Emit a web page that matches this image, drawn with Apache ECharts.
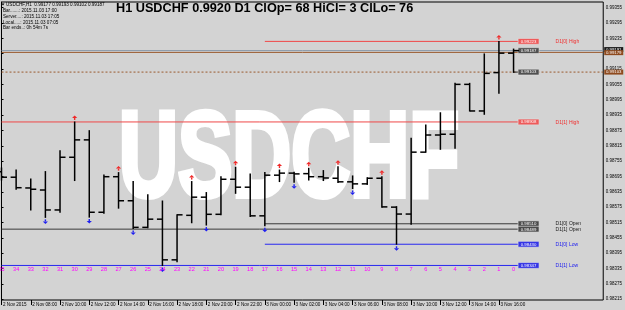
<!DOCTYPE html>
<html><head><meta charset="utf-8">
<script src="https://cdn.jsdelivr.net/npm/echarts@6/dist/echarts.min.js"></script>
<style>html,body{margin:0;padding:0;background:#D3D3D3;}#c{width:625px;height:310px;}</style>
</head><body><div id="c"></div>
<script>
// ---------- data ----------
const barNumbers = [35,34,33,32,31,30,29,28,27,26,25,24,23,22,21,20,19,18,17,16,15,14,13,12,11,10,9,8,7,6,5,4,3,2,1,0];
const opens  = [0.98713,0.98692,0.98650,0.98642,0.98564,0.98770,0.98838,0.98555,0.98694,0.98600,0.98496,0.98528,0.98369,0.98543,0.98614,0.98547,0.98684,0.98653,0.98541,0.98700,0.98708,0.98706,0.98694,0.98688,0.98674,0.98666,0.98688,0.98575,0.98548,0.98790,0.98857,0.98860,0.99055,0.98951,0.99101,0.99177];
const highs  = [0.98728,0.98720,0.98685,0.98714,0.98795,0.98908,0.98874,0.98701,0.98710,0.98675,0.98623,0.98599,0.98545,0.98675,0.98632,0.98694,0.98731,0.98705,0.98710,0.98720,0.98711,0.98727,0.98718,0.98733,0.98697,0.98690,0.98694,0.98577,0.98844,0.98896,0.98944,0.99059,0.99059,0.99174,0.99223,0.99193];
const lows   = [0.98681,0.98645,0.98564,0.98535,0.98555,0.98679,0.98536,0.98551,0.98571,0.98492,0.98494,0.98347,0.98362,0.98514,0.98505,0.98545,0.98629,0.98538,0.98502,0.98675,0.98672,0.98681,0.98679,0.98671,0.98648,0.98664,0.98575,0.98430,0.98508,0.98790,0.98801,0.98805,0.98951,0.98938,0.99020,0.99102];
const closes = [0.98692,0.98651,0.98645,0.98564,0.98770,0.98838,0.98555,0.98694,0.98600,0.98496,0.98528,0.98369,0.98545,0.98614,0.98547,0.98684,0.98653,0.98541,0.98700,0.98708,0.98705,0.98694,0.98689,0.98674,0.98666,0.98688,0.98576,0.98548,0.98790,0.98857,0.98860,0.99055,0.98951,0.99098,0.99177,0.99187];
const upFractalBars   = [30,27,22,19,16,14,12,9,1];
const downFractalBars = [32,29,26,24,21,17,15,11,8];
const timeLabelBars = [35,33,31,29,27,25,23,21,19,17,15,13,11,9,7,5,3,1];
const timeLabels = ['2 Nov 2015','2 Nov 08:00','2 Nov 10:00','2 Nov 12:00','2 Nov 14:00','2 Nov 16:00','2 Nov 18:00','2 Nov 20:00','2 Nov 22:00','3 Nov 00:00','3 Nov 02:00','3 Nov 04:00','3 Nov 06:00','3 Nov 08:00','3 Nov 10:00','3 Nov 12:00','3 Nov 14:00','3 Nov 16:00'];
const priceTicks = [0.98215,0.98275,0.98335,0.98395,0.98455,0.98515,0.98575,0.98635,0.98695,0.98755,0.98815,0.98875,0.98935,0.98995,0.99055,0.99115,0.99175,0.99235,0.99295,0.99355];
const levelNames     = ['D1[0] High','D1[1] High','D1[0] Open','D1[1] Open','D1[0] Low','D1[1] Low','',''];
const levelKinds     = ['high','high','open','open','low','low','bar','bar'];
const levelValues    = [0.99223,0.98908,0.98510,0.98489,0.98430,0.98347,0.99187,0.99103];
const levelStartBars = [17,35,17,35,17,35,0,0];
const priceLineValues = [0.99187,0.99180,0.99103];
const priceLineKinds  = ['bid','brown','brownDot'];
const axisBoxValues = [0.99191,0.99179,0.99103];
const axisBoxKinds  = ['bid','brown','brown'];
const titleText = 'H1 USDCHF 0.9920 D1 ClOp= 68 HiCl= 3 ClLo= 76';
const watermark = 'USDCHF';
const infoLines = ['USDCHF,H1  0.99177 0.99193 0.99102 0.99187','Bar.......: 2015.11.03 17:00','Server....: 2015.11.03 17:05','Local.....: 2015.11.03 07:05','Bar ends..: 0h 54m 7s'];

// ---------- styles ----------
const FONT = '"Liberation Sans", Arial, sans-serif';
const levelStyle = {
  high: {line:'#F04848', box:'#EE5A5A', text:'#F03030'},
  open: {line:'#3A3A3A', box:'#4A4A4A', text:'#202020'},
  low:  {line:'#2828F0', box:'#3434E6', text:'#2020F0'},
  bar:  {line:'#202020', box:'#505050', text:'#202020'}
};
const priceLineStyle = {
  bid: {stroke:'#8898A8', lineWidth:1},
  brown: {stroke:'#9A5A2E', lineWidth:1},
  brownDot: {stroke:'#9A5A2E', lineWidth:1, lineDash:[2,2]}
};
const axisBoxStyle = {bid:'#1A1A1A', brown:'#8E4A1E'};

// ---------- derived ----------
const N = barNumbers.length;
const idxOf = b => (N - 1) - b;
const ohlcData = barNumbers.map((b, i) => [idxOf(b), opens[i], highs[i], lows[i], closes[i]]);
const fractalData = upFractalBars.map(b => [idxOf(b), highs[barNumbers.indexOf(b)], 1])
  .concat(downFractalBars.map(b => [idxOf(b), lows[barNumbers.indexOf(b)], -1]));
const numberData = barNumbers.map(b => [idxOf(b), b]);
const levelData = levelValues.map((v, i) => [idxOf(levelStartBars[i]), v, i]);
const priceLineData = priceLineValues.map((v, i) => [0, v, i]);
const axisBoxData = axisBoxValues.map((v, i) => [0, v, i]);
const xTickVals = timeLabelBars.map(idxOf);

const chart = echarts.init(document.getElementById('c'));

function renderBar(params, api) {
  const x = api.value(0);
  const o = api.coord([x, api.value(1)]);
  const h = api.coord([x, api.value(2)]);
  const l = api.coord([x, api.value(3)]);
  const c = api.coord([x, api.value(4)]);
  const w = 5.5;
  const st = {stroke:'#000', lineWidth:1.5};
  return {type:'group', children:[
    {type:'line', shape:{x1:h[0], y1:h[1]-0.5, x2:l[0], y2:l[1]+0.5}, style:st},
    {type:'line', shape:{x1:o[0]-w, y1:o[1], x2:o[0], y2:o[1]}, style:st},
    {type:'line', shape:{x1:c[0], y1:c[1], x2:c[0]+w, y2:c[1]}, style:st}
  ]};
}
function renderFractal(params, api) {
  const p = api.coord([api.value(0), api.value(1)]);
  const d = api.value(2);
  const col = d > 0 ? '#F02828' : '#2020F0';
  const s = -d;
  const tip = p[1] + s * 6.5, base = p[1] + s * 4, stemEnd = p[1] + s * 2;
  return {type:'group', children:[
    {type:'polygon', shape:{points:[[p[0], tip],[p[0]-2.6, base],[p[0]+2.6, base]]}, style:{fill:col}},
    {type:'line', shape:{x1:p[0], y1:base, x2:p[0], y2:stemEnd}, style:{stroke:col, lineWidth:1.4}}
  ]};
}
function renderNumber(params, api) {
  const p = api.coord([api.value(0), 0.99]);
  const cs = params.coordSys;
  return {type:'text', x:p[0], y:cs.y + cs.height - 30.3,
    style:{text:String(api.value(1)), fill:'#FF00FF', font:'5.6px ' + FONT, align:'center', verticalAlign:'middle'}};
}
function renderLevel(params, api) {
  const i = api.value(2);
  const v = api.value(1);
  const st = levelStyle[levelKinds[i]];
  const p0 = api.coord([api.value(0), v]);
  const p1 = api.coord([N - 1, v]);
  const bx = p1[0] + 4.5;
  const ch = [
    {type:'line', shape:{x1:p0[0], y1:p0[1], x2:bx, y2:p1[1]}, style:{stroke:st.line, lineWidth:1}},
    {type:'rect', shape:{x:bx, y:p1[1]-2.9, width:21, height:5.8}, style:{fill:st.box, stroke:'#E0E0E0', lineWidth:0.6}},
    {type:'text', x:bx+10.5, y:p1[1]+0.2, style:{text:v.toFixed(5), fill:'#fff', font:'4.3px ' + FONT, align:'center', verticalAlign:'middle'}}
  ];
  if (levelNames[i]) ch.push({type:'text', x:p1[0]+42, y:p1[1]+0.3,
    style:{text:levelNames[i], fill:st.text, font:'5px ' + FONT, align:'left', verticalAlign:'middle'}});
  return {type:'group', children:ch};
}
function renderPriceLine(params, api) {
  const i = api.value(2);
  const cs = params.coordSys;
  const p = api.coord([0, api.value(1)]);
  return {type:'line', shape:{x1:cs.x, y1:p[1], x2:cs.x+cs.width, y2:p[1]}, style:priceLineStyle[priceLineKinds[i]]};
}
function renderAxisBox(params, api) {
  const i = api.value(2);
  const v = api.value(1);
  const cs = params.coordSys;
  const p = api.coord([0, v]);
  const x0 = cs.x + cs.width + 1;
  return {type:'group', children:[
    {type:'rect', shape:{x:x0, y:p[1]-2.5, width:19, height:5}, style:{fill:axisBoxStyle[axisBoxKinds[i]]}},
    {type:'text', x:x0+9.5, y:p[1]+0.2, style:{text:v.toFixed(5), fill:'#fff', font:'4.3px ' + FONT, align:'center', verticalAlign:'middle'}}
  ]};
}

const infoGraphics = infoLines.map((t, i) => ({
  type:'text', left: i === 0 ? 6 : 3, top: 2.4 + i * 5.8, z: 10,
  style:{text:t, fill:'#000', font:'4.6px ' + FONT}
}));

chart.setOption({
  backgroundColor:'#D3D3D3',
  animation:false,
  grid:{left:1.2, right:20, top:2, bottom:10, show:true, borderColor:'#000', borderWidth:1, backgroundColor:'transparent'},
  xAxis:{type:'value', min:0, max:41.13, splitLine:{show:false},
    axisLine:{show:false},
    axisTick:{show:true, customValues:xTickVals, length:5, lineStyle:{color:'#000', width:1}},
    axisLabel:{show:true, customValues:xTickVals, align:'left', margin:2.5, padding:[0,0,0,1.5], fontSize:4.6, fontFamily:'Liberation Sans', color:'#000',
      formatter: v => timeLabels[xTickVals.indexOf(Math.round(v))] || ''}},
  yAxis:{type:'value', position:'right', min:0.98212, max:0.99377, scale:true, splitLine:{show:false},
    axisLine:{show:true, lineStyle:{color:'#000'}},
    axisTick:{show:true, customValues:priceTicks, length:2, lineStyle:{color:'#000'}},
    axisLabel:{show:true, customValues:priceTicks, margin:2.5, fontSize:4.5, fontFamily:'Liberation Sans', color:'#000',
      formatter: v => v.toFixed(5)}},
  graphic:[
    {type:'text', x:289, y:162.5, scaleX:0.68, z:0, silent:true,
      style:{text:watermark, fill:'#FFFFFF', stroke:'#FFFFFF', lineWidth:6, fontSize:120, fontWeight:'bold', fontFamily:'Liberation Sans',
        align:'center', verticalAlign:'middle'}},
    {type:'text', left:116, top:1.5, z:10,
      style:{text:titleText, fill:'#000', fontSize:12.7, fontWeight:'bold', fontFamily:'Liberation Sans'}},
    {type:'polygon', z:10, shape:{points:[[1.5,3.5],[4.5,3.5],[3,5.5]]}, style:{fill:'#000'}}
  ].concat(infoGraphics),
  series:[
    {type:'custom', name:'priceLines', renderItem:renderPriceLine, data:priceLineData, z:1, clip:false},
    {type:'custom', name:'levels', renderItem:renderLevel, data:levelData, z:2, clip:false},
    {type:'custom', name:'bars', renderItem:renderBar, data:ohlcData, z:3, encode:{x:0, y:[1,2,3,4]}},
    {type:'custom', name:'fractals', renderItem:renderFractal, data:fractalData, z:4, encode:{x:0, y:1}},
    {type:'custom', name:'numbers', renderItem:renderNumber, data:numberData, z:4, encode:{x:0}},
    {type:'custom', name:'axisBoxes', renderItem:renderAxisBox, data:axisBoxData, z:5, clip:false}
  ]
});
</script></body></html>
